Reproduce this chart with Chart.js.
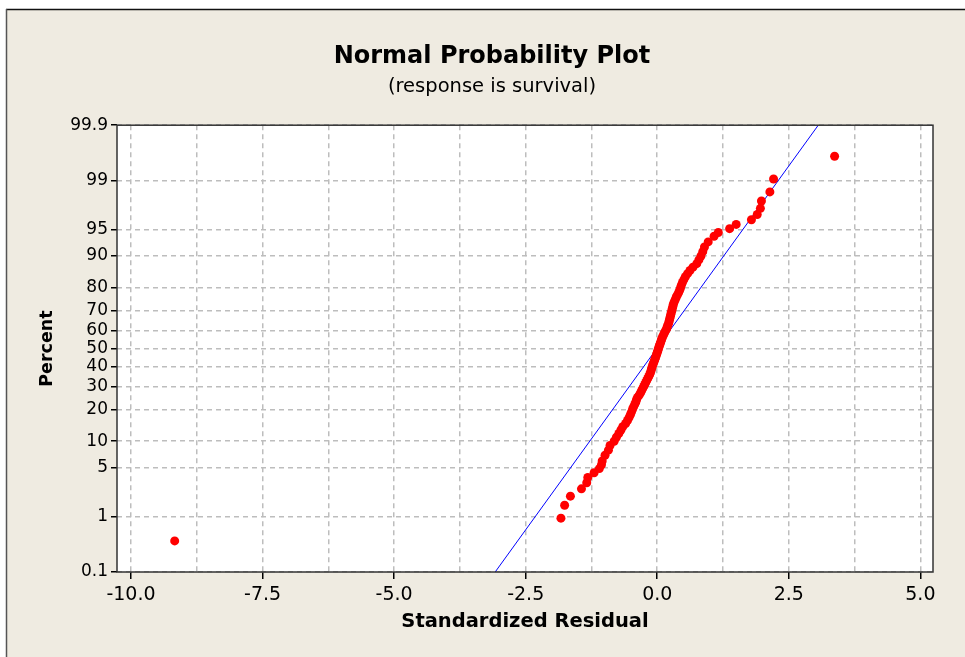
<!DOCTYPE html>
<html>
<head>
<meta charset="utf-8">
<script src="https://cdn.jsdelivr.net/npm/chart.js@4/dist/chart.umd.min.js"></script>
<style>
  html, body { margin: 0; padding: 0; background: #ffffff; }
  #wrap { width: 965px; height: 657px; position: relative; }
</style>
</head>
<body>
<div id="wrap"><canvas id="probplot"></canvas></div>
<script>
// values
const percentTicks = [0.1, 1, 5, 10, 20, 30, 40, 50, 60, 70, 80, 90, 95, 99, 99.9];
const residualTicks = [-10, -8.75, -7.5, -6.25, -5, -3.75, -2.5, -1.25, 0, 1.25, 2.5, 3.75, 5];

const residuals = [
  -9.17, -1.83, -1.76, -1.65, -1.44, -1.34, -1.32, -1.20, -1.10, -1.06,
  -1.046, -0.992, -0.928, -0.897, -0.819, -0.776, -0.730, -0.690, -0.656, -0.601,
  -0.565, -0.536, -0.511, -0.490, -0.471, -0.451, -0.428, -0.407, -0.394, -0.375,
  -0.342, -0.319, -0.298, -0.278, -0.257, -0.238, -0.219, -0.200, -0.181, -0.162,
  -0.143, -0.129, -0.118, -0.108, -0.097, -0.086, -0.072, -0.059, -0.046, -0.034,
  -0.021, -0.010, 0.002, 0.013, 0.023, 0.034, 0.046, 0.059, 0.070, 0.082,
  0.095, 0.110, 0.127, 0.143, 0.163, 0.181, 0.192, 0.207, 0.219, 0.228,
  0.238, 0.247, 0.257, 0.266, 0.278, 0.285, 0.297, 0.306, 0.321, 0.340,
  0.359, 0.380, 0.405, 0.426, 0.443, 0.458, 0.479, 0.506, 0.534, 0.576,
  0.622, 0.679, 0.751, 0.791, 0.831, 0.865, 0.897, 0.968, 1.080, 1.16,
  1.375, 1.50, 1.79, 1.90, 1.96, 1.98, 2.14, 2.21, 3.37
];
const percents = [
  0.39, 0.95, 1.51, 2.06, 2.62, 3.18, 3.74, 4.29, 4.85, 5.4,
  6, 7, 8, 9, 10, 11, 12, 13, 14, 15,
  16, 17, 18, 19, 20, 21, 22, 23, 24, 25,
  26, 27, 28, 29, 30, 31, 32, 33, 34, 35,
  36, 37, 38, 39, 40, 41, 42, 43, 44, 45,
  46, 47, 48, 49, 50, 51, 52, 53, 54, 55,
  56, 57, 58, 59, 60, 61, 62, 63, 64, 65,
  66, 67, 68, 69, 70, 71, 72, 73, 74, 75,
  76, 77, 78, 79, 80, 81, 82, 83, 84, 85,
  86, 87, 88, 89, 90, 91, 92, 93, 94, 94.59,
  95.15, 95.71, 96.26, 96.82, 97.38, 97.94, 98.49, 99.05, 99.61
];

// fitted normal line (two ends)
const fitResiduals = [-3.08, 3.06];
const fitPercents = [0.1, 99.9];

const FONT = "'DejaVu Sans', Verdana, sans-serif";

// inverse normal cdf (Acklam), used by the probability scale
function probit(p) {
  const a = [-39.69683028665376, 220.9460984245205, -275.9285104469687, 138.3577518672690, -30.66479806614716, 2.506628277459239];
  const b = [-54.47609879822406, 161.5858368580409, -155.6989798598866, 66.80131188771972, -13.28068155288572];
  const c = [-0.007784894002430293, -0.3223964580411365, -2.400758277161838, -2.549671324857504, 4.374664141464968, 2.938163982698783];
  const d = [0.007784695709041462, 0.3224671290700398, 2.445134137142996, 3.754408661907416];
  const plow = 0.02425;
  let q, r;
  if (p < plow) {
    q = Math.sqrt(-2 * Math.log(p));
    return (((((c[0] * q + c[1]) * q + c[2]) * q + c[3]) * q + c[4]) * q + c[5]) /
      ((((d[0] * q + d[1]) * q + d[2]) * q + d[3]) * q + 1);
  }
  if (p <= 1 - plow) {
    q = p - 0.5;
    r = q * q;
    return (((((a[0] * r + a[1]) * r + a[2]) * r + a[3]) * r + a[4]) * r + a[5]) * q /
      (((((b[0] * r + b[1]) * r + b[2]) * r + b[3]) * r + b[4]) * r + 1);
  }
  q = Math.sqrt(-2 * Math.log(1 - p));
  return -(((((c[0] * q + c[1]) * q + c[2]) * q + c[3]) * q + c[4]) * q + c[5]) /
    ((((d[0] * q + d[1]) * q + d[2]) * q + d[3]) * q + 1);
}

// normal probability axis: percent values placed by their z score
class ProbitScale extends Chart.Scale {
  determineDataLimits() {
    this.min = percentTicks[0];
    this.max = percentTicks[percentTicks.length - 1];
  }
  buildTicks() {
    return percentTicks.map((v) => ({ value: v }));
  }
  configure() {
    super.configure();
    this._zmin = probit(this.min / 100);
    this._zmax = probit(this.max / 100);
  }
  getLabelForValue(v) {
    return String(v);
  }
  getPixelForValue(v) {
    const z = probit(v / 100);
    return this.getPixelForDecimal((z - this._zmin) / (this._zmax - this._zmin));
  }
  getValueForPixel(px) {
    return this.getDecimalForPixel(px);
  }
}
ProbitScale.id = "probit";
ProbitScale.defaults = {};
Chart.register(ProbitScale);

// page background, window edge and plot frame
const framePlugin = {
  id: "frame",
  beforeDraw(chart) {
    const { ctx, chartArea: a } = chart;
    ctx.save();
    ctx.fillStyle = "#ffffff";
    ctx.fillRect(0, 0, chart.width, chart.height);
    ctx.fillStyle = "#efebe1";
    ctx.fillRect(6, 9, chart.width - 6, chart.height - 9);
    ctx.strokeStyle = "#111111";
    ctx.lineWidth = 1.5;
    ctx.beginPath();
    ctx.moveTo(6, 9.5);
    ctx.lineTo(chart.width, 9.5);
    ctx.stroke();
    ctx.strokeStyle = "#555555";
    ctx.beginPath();
    ctx.moveTo(6.5, 9);
    ctx.lineTo(6.5, chart.height);
    ctx.stroke();
    ctx.fillStyle = "#ffffff";
    ctx.fillRect(a.left, a.top, a.right - a.left, a.bottom - a.top);
    ctx.restore();
  },
  afterDraw(chart) {
    const { ctx, chartArea: a } = chart;
    ctx.save();
    ctx.strokeStyle = "#333333";
    ctx.lineWidth = 1.5;
    ctx.strokeRect(a.left, a.top, a.right - a.left, a.bottom - a.top);
    ctx.restore();
  },
};

const points = residuals.map((r, i) => ({ x: r, y: percents[i] }));
const fitLine = fitResiduals.map((r, i) => ({ x: r, y: fitPercents[i] }));

new Chart(document.getElementById("probplot"), {
  type: "scatter",
  data: {
    datasets: [
      {
        label: "Residuals",
        data: points,
        backgroundColor: "#ff0000",
        borderWidth: 0,
        pointRadius: 4.5,
        order: 0,
      },
      {
        label: "Fit",
        type: "line",
        data: fitLine,
        borderColor: "#0000ff",
        borderWidth: 1,
        pointRadius: 0,
        fill: false,
        order: 1,
      },
    ],
  },
  options: {
    responsive: true,
    maintainAspectRatio: false,
    animation: false,
    // left padding shifts the centred titles to match the reference
    layout: { padding: { left: 51, right: 32, top: 0, bottom: 0 } },
    plugins: {
      legend: { display: false },
      tooltip: { enabled: false },
      title: {
        display: true,
        text: "Normal Probability Plot",
        color: "#000000",
        font: { family: FONT, size: 24, weight: "bold" },
        padding: { top: 42, bottom: 4 },
      },
      subtitle: {
        display: true,
        text: "(response is survival)",
        color: "#000000",
        font: { family: FONT, size: 19.5 },
        padding: { top: 0, bottom: 27 },
      },
    },
    scales: {
      x: {
        type: "linear",
        min: -10.266,
        max: 5.24,
        afterBuildTicks(scale) {
          scale.ticks = residualTicks.map((v) => ({ value: v }));
        },
        afterFit(scale) {
          scale.height = 85;
        },
        ticks: {
          autoSkip: false,
          maxRotation: 0,
          padding: 5,
          color: "#000000",
          font: { family: FONT, size: 19 },
          callback: (v) => (Math.abs(v % 2.5) < 1e-9 ? v.toFixed(1) : ""),
        },
        grid: {
          color: "#bdbdbd",
          lineWidth: 1.5,
          tickLength: 7,
          tickBorderDash: [],
          tickColor: (ctx) =>
            ctx.tick && Math.abs(ctx.tick.value % 2.5) < 1e-9 ? "#000000" : "rgba(0,0,0,0)",
          tickWidth: 1.5,
        },
        border: { display: false, dash: [5, 4] },
        title: {
          display: true,
          text: "Standardized Residual",
          color: "#000000",
          font: { family: FONT, size: 19.5, weight: "bold" },
          padding: { top: 0, bottom: 23 },
        },
      },
      y: {
        type: "probit",
        position: "left",
        afterFit(scale) {
          scale.width = 66;
        },
        ticks: {
          autoSkip: false,
          padding: 3,
          color: "#000000",
          font: { family: FONT, size: 17 },
        },
        grid: {
          color: "#bdbdbd",
          lineWidth: 1.5,
          tickLength: 6,
          tickBorderDash: [],
          tickColor: "#000000",
          tickWidth: 1.5,
        },
        border: { display: false, dash: [5, 4] },
        title: {
          display: true,
          text: "Percent",
          color: "#000000",
          font: { family: FONT, size: 17.5, weight: "bold" },
          padding: { top: -14.5, bottom: 0 },
        },
      },
    },
  },
  plugins: [framePlugin],
});
</script>
</body>
</html>
